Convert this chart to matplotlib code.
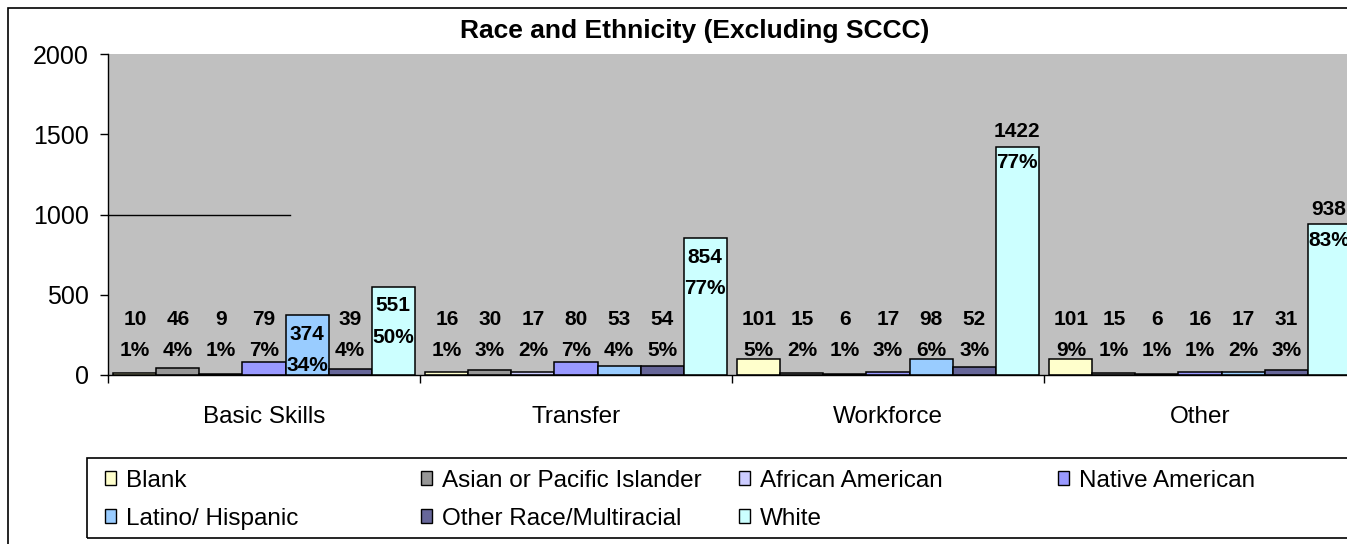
#!/usr/bin/env python3
"""Grouped bar chart: race and ethnicity by program (excluding SCCC)."""

import matplotlib
matplotlib.use('Agg')
import matplotlib.pyplot as plt
from matplotlib.patches import Patch, Rectangle

plt.rcParams['font.family'] = ['Liberation Sans', 'DejaVu Sans']

categories = ['Basic Skills', 'Transfer', 'Workforce', 'Other']
series = ['Blank', 'Asian or Pacific Islander', 'African American', 'Native American',
          'Latino/ Hispanic', 'Other Race/Multiracial', 'White']
colours = ['#FFFFCC', '#969696', '#CCCCFF', '#9999FF', '#99CCFF', '#666699', '#CCFFFF']

# counts per series, one value per category
counts = [
    [10, 16, 101, 101],
    [46, 30, 15, 15],
    [9, 17, 6, 6],
    [79, 80, 17, 16],
    [374, 53, 98, 17],
    [39, 54, 52, 31],
    [551, 854, 1422, 938],
]
# share of the category total, in percent
pcts = [
    [1, 1, 5, 9],
    [4, 3, 2, 1],
    [1, 2, 1, 1],
    [7, 7, 3, 1],
    [34, 4, 6, 2],
    [4, 5, 3, 3],
    [50, 77, 77, 83],
]
y_ticks = [0, 500, 1000, 1500, 2000]

W, H = 1347, 544
fig = plt.figure(figsize=(W / 100, H / 100), dpi=100)
ax = fig.add_axes([108 / W, 1 - 375 / H, 1248 / W, 321 / H])
ax.set_facecolor('#C0C0C0')

n = len(series)
width = 0.138
for i in range(n):
    xs = [j + (i - (n - 1) / 2) * width for j in range(len(categories))]
    ax.bar(xs, counts[i], width=width, color=colours[i], edgecolor='black',
           linewidth=1.1, label=series[i], zorder=2)
    for x, v, p in zip(xs, counts[i], pcts[i]):
        if v > 900:
            top = v + 95
        elif v > 300:
            top = v - 120
        else:
            top = 345
        ax.text(x, top, str(v), ha='center', va='center', fontsize=15,
                fontweight='bold', zorder=3)
        ax.text(x, top - 195, f'{p}%', ha='center', va='center', fontsize=15,
                fontweight='bold', zorder=3)

# stray line left over in the original chart
ax.axhline(1000, xmin=0, xmax=0.146, color='black', linewidth=1, zorder=1)

ax.set_xlim(-0.5, len(categories) - 0.5)
ax.set_ylim(0, 2000)
ax.set_yticks(y_ticks)
ax.tick_params(axis='y', direction='out', length=6, width=1, labelsize=18, pad=8)
ax.set_xticks([j - 0.5 for j in range(len(categories) + 1)])
ax.set_xticklabels([])
ax.set_xticks(range(len(categories)), minor=True)
ax.set_xticklabels(categories, minor=True)
ax.tick_params(axis='x', which='major', direction='out', length=6, width=1)
ax.tick_params(axis='x', which='minor', length=0, labelsize=17.5, pad=22)
for side in ['top', 'right']:
    ax.spines[side].set_visible(False)
for side in ['left', 'bottom']:
    ax.spines[side].set_linewidth(1)

fig.text(695 / W, 1 - 31 / H, 'Race and Ethnicity (Excluding SCCC)', ha='center',
         va='center', fontsize=19, fontweight='bold')

# outer chart frame
fig.patches.append(Rectangle((8 / W, -0.1), 1.2, 1.1 - 8 / H, transform=fig.transFigure,
                             fill=False, edgecolor='black', linewidth=1.2))
# legend frame
fig.patches.append(Rectangle((87 / W, 1 - 538 / H), 1.2, 80 / H, transform=fig.transFigure,
                             fill=False, edgecolor='black', linewidth=1.2))

handles = [Patch(facecolor=c, edgecolor='black', linewidth=1) for c in colours]
col_x = [105, 421, 739, 1058]
for k, cx in enumerate(col_x):
    idx = [k, k + 4] if k + 4 < n else [k]
    leg = fig.legend([handles[i] for i in idx], [series[i] for i in idx],
                     loc='upper left', bbox_to_anchor=(cx / W, 1 - 470 / H),
                     frameon=False, fontsize=17.5, borderpad=0, borderaxespad=0,
                     handlelength=0.45, handleheight=0.5, handletextpad=0.4,
                     labelspacing=0.65)

fig.savefig('out.png', dpi=100)
